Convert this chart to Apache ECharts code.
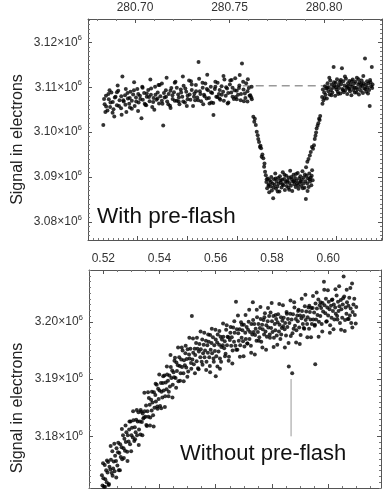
<!DOCTYPE html>
<html><head><meta charset="utf-8">
<script src="https://cdn.jsdelivr.net/npm/echarts@6/dist/echarts.min.js"></script>
<style>html,body{margin:0;padding:0;background:#fff}#c{width:390px;height:495px}</style>
</head><body><div id="c"></div>
<script>
// ---------- DATA (x, signal in 10^6 electrons) ----------
const topXRange = [280.6751, 280.8307];
const topYRange = [3.0760, 3.12518];
const botXRange = [0.5149, 0.6188];
const botYRange = [3.17098, 3.20904];
const yAxisTitle = 'Signal in electrons';
const topLabel = 'With pre-flash';
const botLabel = 'Without pre-flash';

const topLeftA = [[280.6832,3.1016],[280.6839,3.1062],[280.6846,3.1081],[280.6854,3.1048],[280.6861,3.1073],[280.6868,3.1056],[280.6875,3.1088],[280.6882,3.1067],[280.6890,3.1035],[280.6897,3.1079],[280.6904,3.1060],[280.6911,3.1092],[280.6918,3.1071],[280.6926,3.1053],[280.6933,3.1124],[280.6940,3.1068],[280.6947,3.1082],[280.6954,3.1045],[280.6962,3.1075],[280.6969,3.1063],[280.6976,3.1090],[280.6983,3.1070],[280.6990,3.1084],[280.6998,3.1058],[280.7005,3.1077],[280.7012,3.1096],[280.7019,3.1066],[280.7026,3.1081],[280.7034,3.1031],[280.7041,3.1072],[280.7048,3.1087],[280.7055,3.1061],[280.7062,3.1079],[280.7070,3.1094],[280.7077,3.1069],[280.7084,3.1083],[280.7091,3.1056],[280.7098,3.1076],[280.7106,3.1101],[280.7113,3.1072],[280.7120,3.1088],[280.7127,3.1064],[280.7134,3.1080],[280.7142,3.1108],[280.7149,3.1015],[280.7156,3.1077],[280.7163,3.1093],[280.7170,3.1068],[280.7178,3.1085],[280.7185,3.1059],[280.7192,3.1098],[280.7199,3.1074],[280.7206,3.1089],[280.7214,3.1112],[280.7221,3.1070],[280.7228,3.1084],[280.7235,3.1062],[280.7242,3.1095],[280.7250,3.1079],[280.7257,3.1103],[280.7264,3.1066],[280.7271,3.1090],[280.7278,3.1081],[280.7286,3.1115],[280.7293,3.1072],[280.7300,3.1094],[280.7307,3.1058],[280.7314,3.1086],[280.7322,3.1105],[280.7329,3.1077],[280.7336,3.1156],[280.7343,3.1091],[280.7350,3.1069],[280.7358,3.1099],[280.7365,3.1083],[280.7372,3.1108],[280.7379,3.1075],[280.7386,3.1093],[280.7394,3.1064],[280.7401,3.1101],[280.7408,3.1087],[280.7415,3.1038],[280.7422,3.1096],[280.7430,3.1079],[280.7437,3.1110],[280.7444,3.1085],[280.7451,3.1072],[280.7458,3.1102],[280.7466,3.1090],[280.7473,3.1117],[280.7480,3.1081],[280.7487,3.1097],[280.7494,3.1066],[280.7502,3.1106],[280.7509,3.1088],[280.7516,3.1099],[280.7523,3.1074],[280.7530,3.1120],[280.7538,3.1092],[280.7545,3.1083],[280.7552,3.1104],[280.7559,3.1071],[280.7566,3.1153],[280.7574,3.1095],[280.7581,3.1086],[280.7588,3.1109],[280.7595,3.1068],[280.7602,3.1098],[280.7610,3.1082],[280.7617,3.1101]];
const topLeftB = [[280.6836,3.1074],[280.6847,3.1057],[280.6859,3.1085],[280.6870,3.1066],[280.6881,3.1043],[280.6893,3.1077],[280.6904,3.1089],[280.6915,3.1058],[280.6927,3.1080],[280.6938,3.1071],[280.6949,3.1061],[280.6960,3.1087],[280.6972,3.1076],[280.6983,3.1052],[280.6994,3.1093],[280.7006,3.1068],[280.7017,3.1085],[280.7028,3.1074],[280.7040,3.1099],[280.7051,3.1063],[280.7062,3.1086],[280.7074,3.1078],[280.7085,3.1097],[280.7096,3.1067],[280.7108,3.1083],[280.7119,3.1075],[280.7130,3.1105],[280.7142,3.1070],[280.7153,3.1087],[280.7164,3.1079],[280.7176,3.1062],[280.7187,3.1092],[280.7198,3.1082],[280.7210,3.1070],[280.7221,3.1099],[280.7232,3.1077],[280.7244,3.1088],[280.7255,3.1068],[280.7266,3.1097],[280.7278,3.1073],[280.7289,3.1084],[280.7300,3.1106],[280.7312,3.1079],[280.7323,3.1091],[280.7334,3.1071],[280.7346,3.1085],[280.7357,3.1110],[280.7368,3.1080],[280.7380,3.1096],[280.7391,3.1076],[280.7402,3.1089],[280.7414,3.1065],[280.7425,3.1101],[280.7436,3.1078],[280.7448,3.1094],[280.7459,3.1083],[280.7470,3.1070],[280.7482,3.1100],[280.7493,3.1087],[280.7504,3.1115],[280.7516,3.1079],[280.7527,3.1093],[280.7538,3.1073],[280.7550,3.1098],[280.7561,3.1085],[280.7572,3.1112],[280.7584,3.1076],[280.7595,3.1091],[280.7606,3.1081],[280.7618,3.1073]];
const topLeftC = [[280.6843,3.1045],[280.6865,3.1093],[280.6886,3.1051],[280.6908,3.1104],[280.6929,3.1039],[280.6951,3.1096],[280.6973,3.1055],[280.6995,3.1111],[280.7016,3.1047],[280.7038,3.1101],[280.7059,3.1060],[280.7081,3.1117],[280.7102,3.1050],[280.7124,3.1105],[280.7145,3.1063],[280.7167,3.1121],[280.7188,3.1054],[280.7210,3.1110],[280.7231,3.1068],[280.7253,3.1124],[280.7274,3.1058],[280.7296,3.1113],[280.7318,3.1071],[280.7339,3.1119],[280.7361,3.1062],[280.7382,3.1128],[280.7404,3.1066],[280.7425,3.1112],[280.7447,3.1075],[280.7468,3.1125],[280.7490,3.1064],[280.7511,3.1116],[280.7533,3.1078],[280.7554,3.1127],[280.7576,3.1069],[280.7597,3.1118],[280.7615,3.1077]];
const topIngress = [[280.7626,3.1034],[280.7631,3.1023],[280.7634,3.1030],[280.7639,3.1016],[280.7644,3.1001],[280.7649,3.0993],[280.7652,3.0985],[280.7656,3.0978],[280.7661,3.0967],[280.7664,3.0970],[280.7667,3.0964],[280.7670,3.0945],[280.7674,3.0950],[280.7679,3.0942],[280.7683,3.0923],[280.7685,3.0930],[280.7688,3.0912]];
const topBottom = [[280.7692,3.0904],[280.7695,3.0889],[280.7699,3.0875],[280.7703,3.0897],[280.7706,3.0881],[280.7710,3.0866],[280.7713,3.0893],[280.7717,3.0879],[280.7721,3.0900],[280.7724,3.0870],[280.7728,3.0886],[280.7731,3.0853],[280.7735,3.0895],[280.7739,3.0883],[280.7742,3.0908],[280.7746,3.0874],[280.7749,3.0890],[280.7753,3.0879],[280.7757,3.0898],[280.7760,3.0885],[280.7764,3.0868],[280.7767,3.0902],[280.7771,3.0888],[280.7775,3.0877],[280.7778,3.0894],[280.7782,3.0911],[280.7785,3.0882],[280.7789,3.0896],[280.7793,3.0871],[280.7796,3.0889],[280.7800,3.0903],[280.7803,3.0880],[280.7807,3.0893],[280.7811,3.0876],[280.7814,3.0899],[280.7818,3.0887],[280.7821,3.0914],[280.7825,3.0881],[280.7829,3.0895],[280.7832,3.0869],[280.7836,3.0890],[280.7839,3.0905],[280.7843,3.0884],[280.7847,3.0898],[280.7850,3.0878],[280.7854,3.0892],[280.7857,3.0886],[280.7861,3.0909],[280.7865,3.0874],[280.7868,3.0897],[280.7872,3.0888],[280.7875,3.0902],[280.7879,3.0880],[280.7883,3.0894],[280.7886,3.0913],[280.7890,3.0885],[280.7893,3.0899],[280.7897,3.0876],[280.7901,3.0891],[280.7904,3.0851],[280.7908,3.0903],[280.7911,3.0886],[280.7915,3.0897],[280.7919,3.0878],[280.7922,3.0908],[280.7926,3.0890],[280.7929,3.0899],[280.7933,3.0882],[280.7937,3.0915],[280.7940,3.0893],
[280.7697,3.0895],[280.7708,3.0884],[280.7719,3.0889],[280.7733,3.0877],[280.7744,3.0897],[280.7755,3.0868],[280.7769,3.0893],[280.7780,3.0884],[280.7791,3.0905],[280.7805,3.0889],[280.7816,3.0872],[280.7827,3.0900],[280.7841,3.0891],[280.7852,3.0907],[280.7863,3.0882],[280.7877,3.0890],[280.7888,3.0875],[280.7899,3.0906],[280.7913,3.0869],[280.7924,3.0895],[280.7935,3.0903]];
const topEgress = [[280.7905,3.0922],[280.7912,3.0934],[280.7918,3.0940],[280.7925,3.0948],[280.7930,3.0956],[280.7936,3.0967],[280.7942,3.0963],[280.7947,3.0971],[280.7951,3.0985],[280.7955,3.0992],[280.7958,3.0999],[280.7961,3.1008],[280.7966,3.1014],[280.7970,3.1020],[280.7974,3.1030],[280.7977,3.1027],[280.7980,3.1036]];
const topRight = [[280.7990,3.1078],[280.7994,3.1095],[280.7997,3.1071],[280.8001,3.1088],[280.8005,3.1102],[280.8008,3.1083],[280.8012,3.1097],[280.8015,3.1075],[280.8019,3.1109],[280.8023,3.1091],[280.8026,3.1100],[280.8030,3.1084],[280.8033,3.1115],[280.8037,3.1094],[280.8041,3.1106],[280.8044,3.1088],[280.8048,3.1099],[280.8051,3.1145],[280.8055,3.1103],[280.8059,3.1081],[280.8062,3.1110],[280.8066,3.1095],[280.8069,3.1118],[280.8073,3.1090],[280.8077,3.1105],[280.8080,3.1098],[280.8084,3.1112],[280.8087,3.1086],[280.8091,3.1107],[280.8095,3.1142],[280.8098,3.1096],[280.8102,3.1113],[280.8105,3.1089],[280.8109,3.1104],[280.8113,3.1093],[280.8116,3.1119],[280.8120,3.1100],[280.8123,3.1085],[280.8127,3.1109],[280.8131,3.1097],[280.8134,3.1114],[280.8138,3.1091],[280.8141,3.1106],[280.8145,3.1082],[280.8149,3.1101],[280.8152,3.1117],[280.8156,3.1094],[280.8159,3.1108],[280.8163,3.1088],[280.8167,3.1112],[280.8170,3.1099],[280.8174,3.1121],[280.8177,3.1095],[280.8181,3.1106],[280.8185,3.1084],[280.8188,3.1110],[280.8192,3.1100],[280.8195,3.1092],[280.8199,3.1115],[280.8203,3.1103],[280.8206,3.1087],[280.8210,3.1109],[280.8213,3.1097],[280.8217,3.1164],[280.8221,3.1105],[280.8224,3.1090],[280.8228,3.1113],[280.8231,3.1099],[280.8235,3.1108],[280.8239,3.1094],[280.8242,3.1058],[280.8246,3.1111],[280.8249,3.1102],[280.8253,3.1145],[280.8257,3.1106],
[280.7992,3.1063],[280.8003,3.1076],[280.8017,3.1098],[280.8028,3.1121],[280.8039,3.1082],[280.8053,3.1111],[280.8064,3.1100],[280.8075,3.1085],[280.8089,3.1116],[280.8100,3.1093],[280.8111,3.1124],[280.8125,3.1102],[280.8136,3.1096],[280.8147,3.1113],[280.8161,3.1099],[280.8172,3.1088],[280.8183,3.1118],[280.8197,3.1107],[280.8208,3.1125],[280.8219,3.1096],[280.8233,3.1086],[280.8244,3.1116],[280.8255,3.1098]];
const baselineFit = [[280.7570,3.1103],[280.8260,3.1103]];

const botSignal = [[0.5195,3.1732],[0.5197,3.1714],[0.5200,3.1727],[0.5202,3.1712],[0.5205,3.1750],[0.5207,3.1725],[0.5210,3.1741],[0.5212,3.1720],[0.5215,3.1737],[0.5217,3.1755],[0.5220,3.1717],[0.5222,3.1747],[0.5225,3.1742],[0.5227,3.1759],[0.5230,3.1736],[0.5232,3.1774],[0.5235,3.1744],[0.5237,3.1756],[0.5240,3.1739],[0.5242,3.1766],[0.5245,3.1757],[0.5247,3.1779],[0.5250,3.1749],[0.5252,3.1772],[0.5255,3.1741],[0.5257,3.1771],[0.5260,3.1786],[0.5262,3.1764],[0.5265,3.1781],[0.5267,3.1760],[0.5270,3.1802],[0.5272,3.1779],[0.5275,3.1796],[0.5277,3.1775],[0.5280,3.1790],[0.5282,3.1807],[0.5285,3.1773],[0.5287,3.1802],[0.5290,3.1791],[0.5292,3.1812],[0.5295,3.1786],[0.5297,3.1826],[0.5300,3.1802],[0.5302,3.1815],[0.5305,3.1798],[0.5307,3.1828],[0.5310,3.1792],[0.5312,3.1816],[0.5315,3.1807],[0.5317,3.1829],[0.5320,3.1802],[0.5322,3.1826],[0.5325,3.1842],[0.5327,3.1812],[0.5330,3.1826],[0.5332,3.1803],[0.5335,3.1843],[0.5337,3.1825],[0.5340,3.1840],[0.5342,3.1831],
[0.5345,3.1833],[0.5347,3.1844],[0.5350,3.1834],[0.5352,3.1854],[0.5355,3.1818],[0.5357,3.1844],[0.5360,3.1834],[0.5362,3.1867],[0.5365,3.1855],[0.5367,3.1833],[0.5370,3.1864],[0.5372,3.1845],[0.5375,3.1859],[0.5377,3.1837],[0.5380,3.1877],[0.5382,3.1850],[0.5385,3.1872],[0.5387,3.1861],[0.5390,3.1890],[0.5392,3.1852],[0.5395,3.1883],[0.5397,3.1865],[0.5400,3.1880],[0.5402,3.1853],[0.5405,3.1893],[0.5407,3.1878],[0.5410,3.1868],[0.5412,3.1893],[0.5415,3.1880],[0.5417,3.1906],[0.5420,3.1870],[0.5422,3.1894],[0.5425,3.1882],[0.5427,3.1908],[0.5430,3.1897],[0.5432,3.1870],[0.5435,3.1906],[0.5437,3.1887],[0.5440,3.1921],[0.5442,3.1902],[0.5445,3.1915],[0.5447,3.1890],[0.5450,3.1912],[0.5452,3.1903],[0.5455,3.1937],[0.5457,3.1902],[0.5460,3.1929],[0.5462,3.1914],[0.5465,3.1924],[0.5467,3.1896],[0.5470,3.1938],[0.5472,3.1923],[0.5475,3.1910],[0.5477,3.1934],[0.5480,3.1921],[0.5482,3.1950],[0.5485,3.1910],[0.5487,3.1933],[0.5490,3.1924],[0.5492,3.1945],
[0.5495,3.1920],[0.5497,3.1935],[0.5500,3.1952],[0.5502,3.1913],[0.5505,3.1943],[0.5507,3.1936],[0.5510,3.1953],[0.5512,3.1928],[0.5515,3.2010],[0.5517,3.1934],[0.5520,3.1946],[0.5522,3.1926],[0.5525,3.1953],[0.5527,3.1942],[0.5530,3.1963],[0.5532,3.1931],[0.5535,3.1953],[0.5537,3.1919],[0.5540,3.1948],[0.5542,3.1961],[0.5545,3.1938],[0.5547,3.1952],[0.5550,3.1930],[0.5552,3.1969],[0.5555,3.1945],[0.5557,3.1960],[0.5560,3.1938],[0.5562,3.1950],[0.5565,3.1967],[0.5567,3.1930],[0.5570,3.1959],[0.5572,3.1946],[0.5575,3.1965],[0.5577,3.1938],[0.5580,3.1977],[0.5582,3.1951],[0.5585,3.1963],[0.5587,3.1945],[0.5590,3.1973],[0.5592,3.1936],[0.5595,3.1959],[0.5597,3.1949],[0.5600,3.1969],[0.5602,3.1940],[0.5605,3.1964],[0.5607,3.1978],[0.5610,3.1948],[0.5612,3.1960],[0.5615,3.1936],[0.5617,3.1974],[0.5620,3.1956],[0.5622,3.1969],[0.5625,3.1959],[0.5627,3.1974],[0.5630,3.1954],[0.5632,3.1966],[0.5635,3.1944],[0.5637,3.1986],[0.5640,3.1959],[0.5642,3.1974],
[0.5645,3.1973],[0.5647,3.1939],[0.5650,3.1968],[0.5652,3.1981],[0.5655,3.1958],[0.5657,3.1973],[0.5660,3.1950],[0.5662,3.1990],[0.5665,3.1965],[0.5667,3.1981],[0.5670,3.1958],[0.5672,3.2035],[0.5675,3.1987],[0.5677,3.1951],[0.5680,3.1980],[0.5682,3.1967],[0.5685,3.1987],[0.5687,3.1959],[0.5690,3.1999],[0.5692,3.1972],[0.5695,3.1985],[0.5697,3.1966],[0.5700,3.1995],[0.5702,3.1957],[0.5705,3.1981],[0.5707,3.1970],[0.5710,3.1991],[0.5712,3.1962],[0.5715,3.1986],[0.5717,3.2000],[0.5720,3.1970],[0.5722,3.1982],[0.5725,3.1958],[0.5727,3.1996],[0.5730,3.1978],[0.5732,3.2034],[0.5735,3.1982],[0.5737,3.1996],[0.5740,3.1977],[0.5742,3.1988],[0.5745,3.1967],[0.5747,3.2008],[0.5750,3.1982],[0.5752,3.1996],[0.5755,3.1973],[0.5757,3.1989],[0.5760,3.2005],[0.5762,3.1965],[0.5765,3.1995],[0.5767,3.1987],[0.5770,3.2003],[0.5772,3.1978],[0.5775,3.2015],[0.5777,3.1983],[0.5780,3.1994],[0.5782,3.1974],[0.5785,3.2001],[0.5787,3.1990],[0.5790,3.2010],[0.5792,3.1978],
[0.5795,3.2016],[0.5797,3.1989],[0.5800,3.2001],[0.5802,3.1982],[0.5805,3.2010],[0.5807,3.1972],[0.5810,3.1996],[0.5812,3.1985],[0.5815,3.2005],[0.5817,3.1976],[0.5820,3.1999],[0.5822,3.2013],[0.5825,3.1983],[0.5827,3.1995],[0.5830,3.1970],[0.5832,3.2008],[0.5835,3.1989],[0.5837,3.2002],[0.5840,3.1992],[0.5842,3.2007],[0.5845,3.1987],[0.5847,3.1998],[0.5850,3.1976],[0.5852,3.2017],[0.5855,3.1991],[0.5857,3.2005],[0.5860,3.1922],[0.5862,3.1998],[0.5865,3.2014],[0.5867,3.1975],[0.5870,3.2004],[0.5872,3.1910],[0.5875,3.2013],[0.5877,3.1988],[0.5880,3.2025],[0.5882,3.1993],[0.5885,3.2005],[0.5887,3.1985],[0.5890,3.2011],[0.5892,3.2001],[0.5895,3.2021],[0.5897,3.1990],[0.5900,3.2011],[0.5902,3.1977],[0.5905,3.2006],[0.5907,3.2019],[0.5910,3.1996],[0.5912,3.2010],[0.5915,3.1988],[0.5917,3.2027],[0.5920,3.2003],[0.5922,3.2018],[0.5925,3.1996],[0.5927,3.2008],[0.5930,3.2025],[0.5932,3.1988],[0.5935,3.2017],[0.5937,3.2004],[0.5940,3.2024],[0.5942,3.1996],
[0.5945,3.2024],[0.5947,3.2004],[0.5950,3.2016],[0.5952,3.1993],[0.5954,3.1926],[0.5955,3.2032],[0.5957,3.2004],[0.5960,3.2023],[0.5962,3.2012],[0.5965,3.2039],[0.5967,3.2000],[0.5970,3.2029],[0.5972,3.2010],[0.5975,3.2024],[0.5977,3.1996],[0.5980,3.2033],[0.5982,3.2018],[0.5985,3.2070],[0.5987,3.2029],[0.5990,3.2015],[0.5992,3.2040],[0.5995,3.2001],[0.5997,3.2025],[0.6000,3.2011],[0.6002,3.2035],[0.6005,3.2022],[0.6007,3.1994],[0.6010,3.2028],[0.6012,3.2007],[0.6015,3.2039],[0.6017,3.2019],[0.6020,3.2030],[0.6022,3.2004],[0.6025,3.2025],[0.6027,3.2014],[0.6030,3.2046],[0.6032,3.2010],[0.6035,3.2035],[0.6037,3.2019],[0.6040,3.2027],[0.6042,3.1998],[0.6045,3.2038],[0.6047,3.2022],[0.6050,3.2007],[0.6052,3.2030],[0.6055,3.2079],[0.6057,3.2044],[0.6060,3.2003],[0.6062,3.2025],[0.6065,3.2014],[0.6067,3.2034],[0.6070,3.2005],[0.6072,3.2028],[0.6075,3.2042],[0.6077,3.2011],[0.6080,3.2023],[0.6082,3.1998],[0.6085,3.2067],[0.6087,3.2017],[0.6090,3.2030],[0.6095,3.2012],[0.6100,3.2026],
[0.5580,3.1912],[0.5600,3.1905],[0.5615,3.1918]];
const botSignalWide = [[0.5199,3.1753],[0.5206,3.1712],[0.5213,3.1758],[0.5219,3.1715],[0.5226,3.1783],[0.5233,3.1731],[0.5239,3.1787],[0.5246,3.1728],[0.5253,3.1789],[0.5259,3.1741],[0.5266,3.1813],[0.5273,3.1762],[0.5279,3.1819],[0.5286,3.1757],[0.5293,3.1826],[0.5299,3.1774],[0.5306,3.1844],[0.5313,3.1795],[0.5319,3.1846],[0.5326,3.1785],[0.5333,3.1846],[0.5339,3.1802],[0.5346,3.1876],[0.5353,3.1820],[0.5359,3.1877],[0.5366,3.1819],[0.5373,3.1878],[0.5379,3.1817],[0.5386,3.1892],[0.5393,3.1848],[0.5399,3.1908],[0.5406,3.1849],[0.5413,3.1905],[0.5419,3.1851],[0.5426,3.1922],[0.5433,3.1878],[0.5439,3.1942],[0.5446,3.1868],[0.5453,3.1932],[0.5459,3.1885],[0.5466,3.1955],[0.5473,3.1897],[0.5479,3.1955],[0.5486,3.1896],[0.5493,3.1958],[0.5499,3.1904],[0.5506,3.1972],[0.5513,3.1918],[0.5519,3.1971],[0.5526,3.1910],[0.5533,3.1972],[0.5539,3.1917],[0.5546,3.1983],[0.5553,3.1925],[0.5559,3.1981],[0.5566,3.1916],[0.5573,3.1978],[0.5579,3.1923],[0.5586,3.1988],[0.5593,3.1930],[0.5599,3.1986],[0.5606,3.1922],[0.5613,3.1984],[0.5619,3.1930],[0.5626,3.1997],[0.5633,3.1940],[0.5639,3.1994],[0.5646,3.1932],[0.5653,3.1991],[0.5659,3.1927],[0.5666,3.2001],[0.5673,3.1951],[0.5679,3.2011],[0.5686,3.1939],[0.5693,3.1995],[0.5699,3.1940],[0.5706,3.2012],[0.5713,3.1962],[0.5719,3.2021],[0.5726,3.1946],[0.5733,3.2003],[0.5739,3.1943],[0.5746,3.2021],[0.5753,3.1967],[0.5759,3.2026],[0.5766,3.1955],[0.5773,3.2008],[0.5779,3.1951],[0.5786,3.2024],[0.5793,3.1972],[0.5799,3.2033],[0.5806,3.1956],[0.5813,3.2012],[0.5819,3.1960],[0.5826,3.2031],[0.5833,3.1978],[0.5839,3.2029],[0.5846,3.1955],[0.5853,3.2014],[0.5859,3.1963],[0.5866,3.2037],[0.5873,3.1980],[0.5879,3.2034],[0.5886,3.1964],[0.5893,3.2019],[0.5899,3.1961],[0.5906,3.2040],[0.5913,3.1989],[0.5919,3.2047],[0.5926,3.1973],[0.5933,3.2028],[0.5939,3.1973],[0.5946,3.2045],[0.5953,3.1995],[0.5959,3.2051],[0.5966,3.1974],[0.5973,3.2034],[0.5979,3.1983],[0.5986,3.2056],[0.5993,3.2000],[0.5999,3.2055],[0.6006,3.1981],[0.6013,3.2038],[0.6019,3.1987],[0.6026,3.2057],[0.6033,3.2004],[0.6039,3.2062],[0.6046,3.1986],[0.6053,3.2041],[0.6059,3.1984],[0.6066,3.2056],[0.6073,3.2005],[0.6079,3.2059],[0.6086,3.1990],[0.6093,3.2040],[0.6098,3.1997]];
const pointerLine = [[0.5868,3.1800],[0.5868,3.1900]];

// ---------- CHART ----------
const FONT = '"Liberation Sans", Arial, Helvetica, sans-serif';
const AX = '#555';
function xTop(gi, range, minorSplit) {
  return {type:'value', gridIndex:gi, position:'top', min:range[0], max:range[1], splitNumber: gi===0?3:5,
    axisLine:{show:true, onZero:false, lineStyle:{color:AX, width:1}},
    axisTick:{show:true, inside:true, length:4, lineStyle:{color:AX}},
    minorTick:{show:true, splitNumber:minorSplit, length:2, lineStyle:{color:'#777'}},
    splitLine:{show:false},
    axisLabel:{show:true, margin:5, fontSize:12, color:'#333', fontFamily:FONT, showMinLabel:false, showMaxLabel:false,
      formatter: v => v.toFixed(2)}};
}
function xBottomMirror(gi, range, minorSplit, extra) {
  return Object.assign({type:'value', gridIndex:gi, position:'bottom', min:range[0], max:range[1], splitNumber: gi===0?3:5,
    axisLine:{show:true, onZero:false, lineStyle:{color:AX, width:1}},
    axisTick:{show:true, inside:true, length:4, lineStyle:{color:AX}},
    minorTick:{show:true, splitNumber:minorSplit, length:2, lineStyle:{color:'#777'}},
    splitLine:{show:false}, axisLabel:{show:false}}, extra||{});
}
function yAx(gi, range, pos) {
  return {type:'value', gridIndex:gi, position:pos, min:range[0], max:range[1], splitNumber:5, scale:true,
    axisLine:{show:true, onZero:false, lineStyle:{color:AX, width:1}},
    axisTick:{show:true, inside:true, length:4, lineStyle:{color:AX}},
    minorTick:{show:true, splitNumber:10, length:2, lineStyle:{color:'#777'}},
    splitLine:{show:false},
    axisLabel: pos==='left' ? {show:true, margin:6, color:'#333', fontFamily:FONT, showMinLabel:false, showMaxLabel:false,
      formatter: v => '{a|' + v.toFixed(2) + '×10}{s|6}',
      rich:{a:{fontSize:12, color:'#333', fontFamily:FONT}, s:{fontSize:8, color:'#333', fontFamily:FONT, padding:[0,0,8,0]}}} : {show:false}};
}
const dot = {symbol:'circle', symbolSize:4, itemStyle:{color:'#000'}};
const chart = echarts.init(document.getElementById('c'), null, {renderer:'canvas'});
chart.setOption({
  animation:false,
  backgroundColor:'#fff',
  grid:[{left:88, top:19, width:294, height:221}, {left:89, top:270, width:292, height:218}],
  xAxis:[xTop(0, topXRange, 5), xBottomMirror(0, [0, 5.91], 10, {interval:1}), xTop(1, botXRange, 4), xBottomMirror(1, botXRange, 4)],
  yAxis:[yAx(0, topYRange, 'left'), yAx(0, topYRange, 'right'), yAx(1, botYRange, 'left'), yAx(1, botYRange, 'right')],
  series:[
    {type:'line', xAxisIndex:0, yAxisIndex:0, data:baselineFit, symbol:'none', silent:true, z:1,
      lineStyle:{color:'#999', width:1.5, type:[8,5]}},
    Object.assign({type:'scatter', xAxisIndex:0, yAxisIndex:0, silent:true, z:2,
      data:[].concat(topLeftA, topLeftB, topLeftC, topIngress, topBottom, topEgress, topRight)}, dot),
    {type:'line', xAxisIndex:2, yAxisIndex:2, data:pointerLine, symbol:'none', silent:true, z:1,
      lineStyle:{color:'#999', width:1}},
    Object.assign({type:'scatter', xAxisIndex:2, yAxisIndex:2, silent:true, z:2, data:[].concat(botSignal, botSignalWide)}, dot)
  ],
  graphic:[
    {type:'text', x:17.5, y:139.5, rotation:Math.PI/2, style:{text:yAxisTitle, font:'16px '+FONT, fill:'#222', textAlign:'center', textVerticalAlign:'middle'}},
    {type:'text', x:17.5, y:408, rotation:Math.PI/2, style:{text:yAxisTitle, font:'16px '+FONT, fill:'#222', textAlign:'center', textVerticalAlign:'middle'}},
    {type:'text', x:97, y:217, style:{text:topLabel, font:'22.5px '+FONT, fill:'#111', textAlign:'left', textVerticalAlign:'middle'}},
    {type:'text', x:180, y:454, style:{text:botLabel, font:'22px '+FONT, fill:'#111', textAlign:'left', textVerticalAlign:'middle'}}
  ]
});
</script></body></html>
